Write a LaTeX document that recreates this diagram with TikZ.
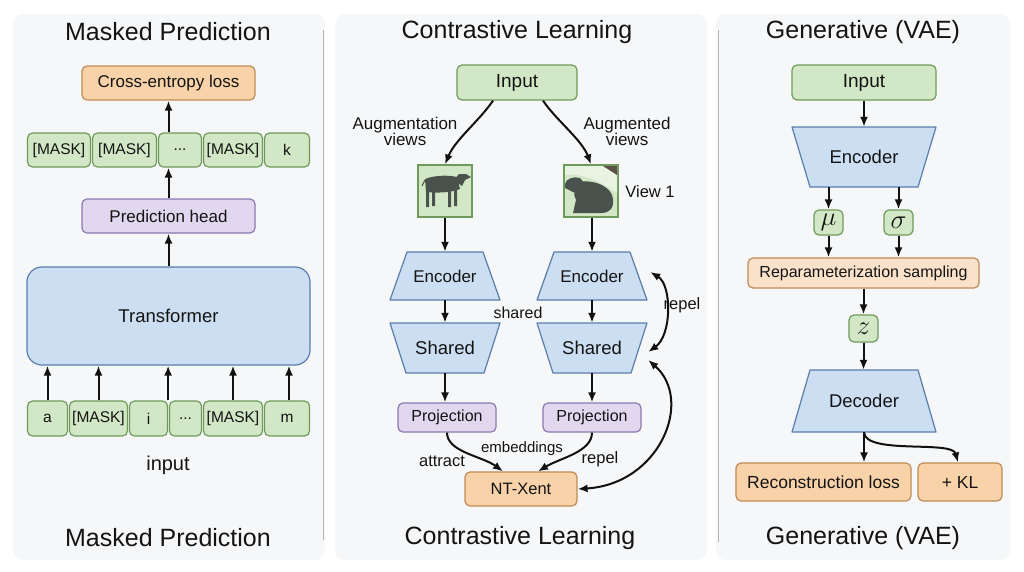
\documentclass[tikz,border=0pt]{standalone}
\usepackage{fontspec}
\setmainfont{Liberation Sans}
\usetikzlibrary{arrows.meta,calc}
\definecolor{txt}{HTML}{141414}
\definecolor{arrc}{HTML}{111111}
\definecolor{panelbg}{HTML}{F6F7F8}
\definecolor{sepc}{HTML}{B4B4B4}
\definecolor{gfill}{HTML}{D2E7C5}
\definecolor{gdraw}{HTML}{6F9A5C}
\definecolor{bfill}{HTML}{CCDEF2}
\definecolor{bdraw}{HTML}{5A7DAA}
\definecolor{pfill}{HTML}{E1D7EF}
\definecolor{pdraw}{HTML}{8B79AF}
\definecolor{ofill}{HTML}{F8D2A8}
\definecolor{odraw}{HTML}{C08A55}
\definecolor{lfill}{HTML}{FAE1C9}
\definecolor{anim}{HTML}{4A524E}
\definecolor{corner}{HTML}{5E5046}
\newcommand\myfs[1]{\fontsize{#1}{#1}\selectfont}
\begin{document}
\begin{tikzpicture}[x=1pt,y=-1pt,
  box/.style={draw, rounded corners=5pt, line width=1.2pt, inner sep=0pt, text=txt, font=\myfs{17}},
  gbox/.style={box, fill=gfill, draw=gdraw},
  bbox/.style={box, fill=bfill, draw=bdraw},
  pbox/.style={box, fill=pfill, draw=pdraw},
  obox/.style={box, fill=ofill, draw=odraw},
  lbox/.style={box, fill=lfill, draw=odraw},
  trapfill/.style={fill=bfill, draw=bdraw, line width=1.2pt, line join=round},
  hid/.style={inner sep=0pt, text=txt},
  lbl/.style={text=txt, inner sep=0pt, align=center, font=\myfs{17}},
  arr/.style={-{Latex[length=10pt,width=8pt]}, line width=2pt, draw=arrc},
  darr/.style={{Latex[length=10pt,width=8pt]}-{Latex[length=10pt,width=8pt]}, line width=2pt, draw=arrc},
  ttl/.style={text=txt, inner sep=0pt, font=\myfs{25}},
]
\useasboundingbox (0,0) rectangle (1024,571);
\fill[white] (0,0) rectangle (1024,571);
% panels
\fill[panelbg, rounded corners=10pt] (13,14) rectangle (325,560);
\fill[panelbg, rounded corners=10pt] (335,14) rectangle (707,560);
\fill[panelbg, rounded corners=10pt] (716,14) rectangle (1010,560);
\draw[sepc, line width=1pt] (323,30) -- (323,540);
\draw[sepc, line width=1pt] (718,30) -- (718,542);

% ================= Panel 1 =================
\node[ttl] (t1) at (168,32) {Masked Prediction};
\node[ttl] (b1) at (168,538) {Masked Prediction};
\node[obox, minimum width=173pt, minimum height=34pt] (ce) at (168.5,83) {Cross-entropy loss};
\begin{scope}[every node/.style={gbox, minimum height=34pt, font=\myfs{15.5}}]
\node[minimum width=63pt] (m1) at (59,150) {[MASK]};
\node[minimum width=64pt] (m2) at (124.5,150) {[MASK]};
\node[minimum width=43pt] (m3) at (180,150) {...};
\node[minimum width=59pt] (m4) at (233,150) {[MASK]};
\node[minimum width=45pt] (m5) at (287,150) {k};
\end{scope}
\node[pbox, minimum width=173pt, minimum height=34pt] (ph) at (168.5,216) {Prediction head};
\node[bbox, rounded corners=15pt, minimum width=283pt, minimum height=98pt, font=\myfs{18.5}] (tr) at (168.5,316) {Transformer};
\begin{scope}[every node/.style={gbox, minimum height=35pt, font=\myfs{15.5}}]
\node[minimum width=40pt] (i1) at (47.5,418.5) {a};
\node[minimum width=58pt] (i2) at (98.5,418.5) {[MASK]};
\node[minimum width=38pt] (i3) at (148.5,418.5) {i};
\node[minimum width=32pt] (i4) at (185.5,418.5) {...};
\node[minimum width=59pt] (i5) at (233,418.5) {[MASK]};
\node[minimum width=45pt] (i6) at (287,418.5) {m};
\end{scope}
\node[lbl, font=\myfs{20}] (inl) at (168,465) {input};
\draw[arr] (ph.north) -- (ph.north |- m3.south);
\draw[arr] (ce.south |- m3.north) -- (ce.south);
\draw[arr] (tr.north) -- (ph.south);
\draw[arr] (i1.north) -- (i1.north |- tr.south);
\draw[arr] (i2.north) -- (i2.north |- tr.south);
\draw[arr] (i3.north east) -- (i3.north east |- tr.south);
\draw[arr] (i5.north) -- (i5.north |- tr.south);
\draw[arr] ($(i6.north)+(2,0)$) -- ($(i6.north |- tr.south)+(2,0)$);

% ================= Panel 2 =================
\node[ttl] (t2) at (517,32) {Contrastive Learning};
\node[ttl] (b2) at (520,538) {Contrastive Learning};
\node[gbox, minimum width=120pt, minimum height=35pt, font=\myfs{19}] (in2) at (517,82.5) {Input};
% images
\node[gbox, rounded corners=0pt, minimum width=54pt, minimum height=52pt] (img1) at (445,191) {};
\node[gbox, rounded corners=0pt, minimum width=54pt, minimum height=52pt] (img2) at (591,191) {};
% goat
\fill[anim] (425,179) .. controls (435,175) and (449,175) .. (457,177) -- (460,189) .. controls (450,193) and (436,193) .. (426,192) -- cycle;
\fill[anim] (454,180) -- (459,174) -- (466,174) -- (471,177) -- (465,180) -- (462,186) -- cycle;
\fill[anim] (426,189) rectangle (429,207) (432,190) rectangle (435,206) (448,190) rectangle (451,207) (454,188) rectangle (457,206);
\draw[anim, line width=1pt] (425,180) -- (422,186);
% dog
\fill[white!50!gfill] (565,166) -- (617,166) -- (617,193) .. controls (600,181) and (582,173) .. (565,175) -- cycle;
\fill[corner] (603,166) -- (617,166) -- (617,175) -- cycle;
\fill[anim] (578,182) .. controls (595,179) and (612,187) .. (613,199) .. controls (614,208) and (610,213) .. (601,213) -- (573,213) -- (576,200) .. controls (573,195) and (574,188) .. (578,182) -- cycle;
\fill[anim] (565,184) .. controls (566,179) and (573,176) .. (580,178) .. controls (585,181) and (584,190) .. (579,193) .. controls (574,194) and (570,190) .. (565,188) -- cycle;
\node[lbl, font=\myfs{16.5}] (v1) at (650,192) {View 1};
\node[lbl, font=\myfs{17}] (aug1) at (405,131.5) {Augmentation\\[-1pt]views};
\node[lbl, font=\myfs{17}] (aug2) at (627,131.5) {Augmented\\[-1pt]views};
\draw[arr] ($(in2.south)+(-24,0)$) .. controls (480,120) and (455,140) .. (img1.north);
\draw[arr] ($(in2.south)+(26,0)$) .. controls (556,120) and (582,140) .. (img2.north);
% trapezoids
\filldraw[trapfill] (407,252) -- (483,252) -- (500,300) -- (390,300) -- cycle;
\filldraw[trapfill] (390,323) -- (500,323) -- (484,373) -- (406,373) -- cycle;
\filldraw[trapfill] (554,252) -- (630,252) -- (647,300) -- (537,300) -- cycle;
\filldraw[trapfill] (537,323) -- (647,323) -- (631,373) -- (553,373) -- cycle;
\node[hid, minimum width=110pt, minimum height=48pt, font=\myfs{17}] (enc1) at (445,276) {Encoder};
\node[hid, minimum width=110pt, minimum height=50pt, font=\myfs{18.5}] (sh1) at (445,348) {Shared};
\node[hid, minimum width=110pt, minimum height=48pt, font=\myfs{17}] (enc2) at (592,276) {Encoder};
\node[hid, minimum width=110pt, minimum height=50pt, font=\myfs{18.5}] (sh2) at (592,348) {Shared};
\node[lbl, font=\myfs{16}] (shl) at (518,313) {shared};
\node[pbox, minimum width=98pt, minimum height=29pt, font=\myfs{16}] (pr1) at (447,417.5) {Projection};
\node[pbox, minimum width=98pt, minimum height=29pt, font=\myfs{16}] (pr2) at (592,417.5) {Projection};
\node[obox, minimum width=112pt, minimum height=34pt, font=\myfs{16.5}] (nt) at (521,489) {NT-Xent};
\draw[arr] (img1.south) -- (img1.south |- enc1.north);
\draw[arr] (img2.south -| enc2.north) -- (enc2.north);
\draw[arr] (enc1.south) -- (sh1.north);
\draw[arr] (enc2.south) -- (sh2.north);
\draw[arr] (sh1.south) -- (sh1.south |- pr1.north);
\draw[arr] (sh2.south) -- (pr2.north);
\draw[arr] (pr1.south) .. controls (447,452) and (482,456) .. ($(nt.north)+(-18,0)$);
\draw[arr] (pr2.south) .. controls (592,452) and (560,458) .. ($(nt.north)+(17,0)$);
\node[lbl, font=\myfs{15}] (emb) at (522,449) {embeddings};
\node[lbl, font=\myfs{16.5}] (att) at (442,461) {attract};
\node[lbl, font=\myfs{16.5}] (rep1) at (600,459) {repel};
\draw[darr] ($(enc2.east)+(3,-4)$) .. controls (672,285) and (672,335) .. ($(sh2.east)+(1,4)$);
\node[lbl, font=\myfs{16.5}] (rep2) at (682,305) {repel};
\draw[darr] (nt.east) .. controls (660,484) and (694,400) .. ($(sh2.east)+(1,12)$);

% ================= Panel 3 =================
\node[ttl] (t3) at (863,32) {Generative (VAE)};
\node[ttl] (b3) at (863,538) {Generative (VAE)};
\node[gbox, minimum width=144pt, minimum height=35pt, font=\myfs{19}] (in3) at (864,82.5) {Input};
\filldraw[trapfill] (792,127) -- (936,127) -- (918,187) -- (810,187) -- cycle;
\node[hid, minimum width=144pt, minimum height=60pt, font=\myfs{18.5}] (enc3) at (864,157) {Encoder};
\node[gbox, minimum width=29pt, minimum height=25pt] (mu) at (828.5,222.5) {\scalebox{1.55}{$\mu$}};
\node[gbox, minimum width=29pt, minimum height=25pt] (sig) at (898.5,222.5) {\scalebox{1.55}{$\sigma$}};
\node[lbox, minimum width=231pt, minimum height=30pt, font=\myfs{16}] (rp) at (863.5,273) {Reparameterization sampling};
\node[gbox, minimum width=29pt, minimum height=27pt] (z) at (863.5,328.5) {\scalebox{1.55}{$z$}};
\filldraw[trapfill] (810,370) -- (918,370) -- (936,432) -- (792,432) -- cycle;
\node[hid, minimum width=144pt, minimum height=62pt, font=\myfs{18.5}] (dec) at (864,401) {Decoder};
\node[obox, minimum width=175pt, minimum height=38pt, font=\myfs{17.5}] (rec) at (823.5,482) {Reconstruction loss};
\node[obox, minimum width=84pt, minimum height=38pt, font=\myfs{17.5}] (kl) at (960,482) {+ KL};
\draw[arr] (in3.south) -- (enc3.north);
\draw[arr] (mu.north |- enc3.south) -- (mu.north);
\draw[arr] (sig.north |- enc3.south) -- (sig.north);
\draw[arr] (mu.south) -- (mu.south |- rp.north);
\draw[arr] (sig.south) -- (sig.south |- rp.north);
\draw[arr] (rp.south -| z.north) -- (z.north);
\draw[arr] (z.south) -- (z.south |- dec.north);
\draw[arr] (dec.south) -- (dec.south |- rec.north);
\draw[arr] (dec.south) .. controls (865,455) and (952,440) .. ($(kl.north)+(-2,0)$);
\end{tikzpicture}
\end{document}
